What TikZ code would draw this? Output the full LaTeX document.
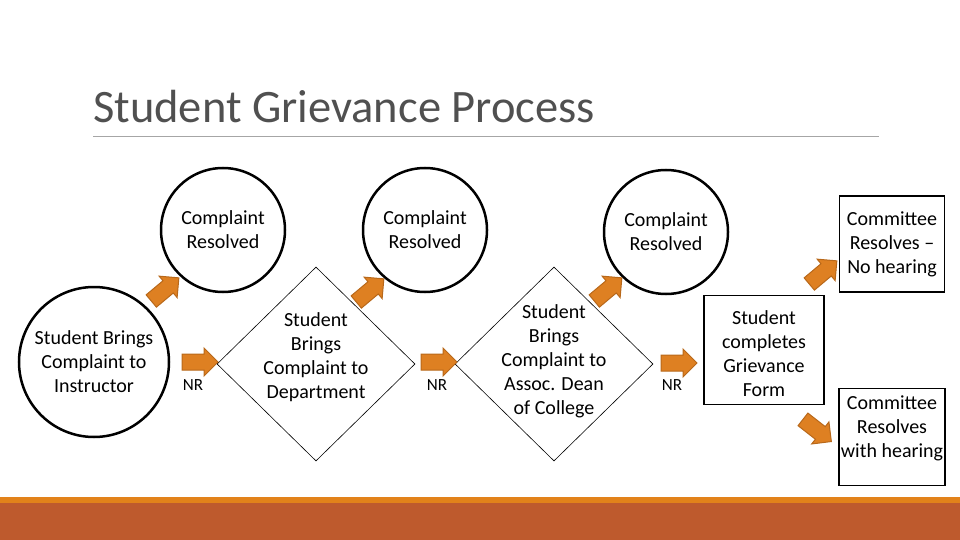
\documentclass[tikz,border=0pt]{standalone}
\usepackage{fontspec}
\setmainfont{Carlito}
\usepackage{tikz}
\usetikzlibrary{positioning,shapes.geometric,shapes.arrows}

\definecolor{blockorange}{RGB}{222,128,34}
\definecolor{blockedge}{RGB}{184,104,26}
\definecolor{bandorange}{RGB}{226,130,26}
\definecolor{bandbrown}{RGB}{190,90,45}
\definecolor{titlegray}{RGB}{80,80,80}

\begin{document}
\begin{tikzpicture}[x=1pt, y=-1pt,
  font=\fontsize{20}{24}\selectfont,
  stage/.style={draw, circle, line width=2.5pt, minimum size=150pt, inner sep=0pt, align=center},
  resolved/.style={draw, circle, line width=2.5pt, minimum size=124pt, inner sep=0pt, align=center},
  escal/.style={draw, diamond, line width=0.6pt, minimum width=198pt, minimum height=194pt, inner sep=0pt},
  formbox/.style={draw, rectangle, line width=1.8pt, inner sep=0pt, align=center},
  lbl/.style={align=center, font=\fontsize{20}{24}\selectfont},
  blockarr/.style={single arrow, draw=blockedge, fill=blockorange, line width=1pt, minimum height=36pt, text height=7.5pt, text depth=7.5pt, single arrow head extend=6pt, inner sep=0pt},
  nr/.style={font=\fontsize{17}{20}\selectfont}]
\useasboundingbox (0,0) rectangle (960,540);
% title and rule
\node[anchor=base west, inner sep=0pt, text=titlegray, font=\fontsize{46.5}{56}\selectfont] (title) at (93,123) {Student Grievance Process};
\draw[black!35, line width=0.8pt] (93,136) -- (879,136);
% bottom band
\fill[bandorange] (0,497) rectangle (960,503);
\fill[bandbrown] (0,503) rectangle (960,540);
% main stages
\node[stage] (instr) at (94,362) {Student Brings\\Complaint to\\Instructor};
\node[escal, label={[lbl,yshift=7pt]center:Student\\Brings\\Complaint to\\Department}] (dept) at (316,364) {};
\node[escal, label={[lbl,yshift=3pt]center:Student\\Brings\\Complaint to\\Assoc. Dean\\of College}] (dean) at (554,364) {};
\node[formbox, minimum width=120pt, minimum height=109pt, label={[lbl,yshift=-4pt]center:Student\\completes\\Grievance\\Form}] (form) at (764,350) {};
% outcomes
\node[resolved] (res1) at (223,230) {Complaint\\Resolved};
\node[resolved] (res2) at (425,230) {Complaint\\Resolved};
\node[resolved] (res3) at (666,232) {Complaint\\Resolved};
\node[formbox, minimum width=105pt, minimum height=96pt] (nohear) at (892,244) {Committee\\Resolves --\\No hearing};
\node[formbox, minimum width=106pt, minimum height=97pt, label={[lbl,yshift=9pt]center:Committee\\Resolves\\with hearing}] (hear) at (892,437) {};
% block arrows
\node[blockarr] (a1) at (196,362) {};
\node[blockarr] (a2) at (435,362) {};
\node[blockarr] (a3) at (675,363) {};
\node[nr] (nr1) at (193,385) {NR};
\node[nr] (nr2) at (437,385) {NR};
\node[nr] (nr3) at (672,385) {NR};
\node[blockarr, rotate=40] (u1) at (162,292) {};
\node[blockarr, rotate=40] (u2) at (367,293) {};
\node[blockarr, rotate=40] (u3) at (605,292) {};
\node[blockarr, rotate=40] (u4) at (820,275) {};
\node[blockarr, rotate=-38] (d1) at (814,428) {};
\end{tikzpicture}
\end{document}
